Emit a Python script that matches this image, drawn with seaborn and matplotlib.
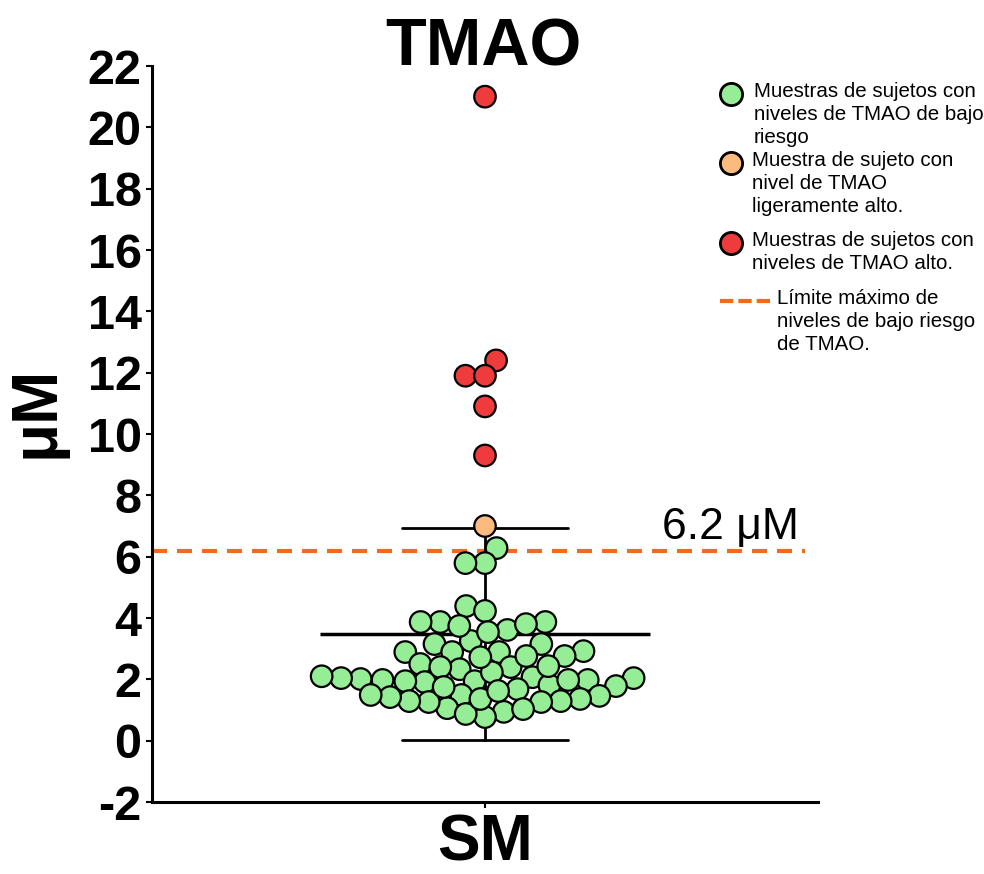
import numpy as np
import pandas as pd
import matplotlib
matplotlib.use("Agg")
import matplotlib.pyplot as plt
from matplotlib.lines import Line2D
import seaborn as sns

# TMAO concentration (µM) of each subject, split by risk level
bajo_riesgo = [
    6.28, 5.79, 5.79, 4.39, 4.23,
    3.87, 3.87, 3.61, 3.25, 3.15, 2.89, 2.89, 2.89, 2.92, 3.15, 3.54, 3.74, 3.80, 3.87,
    2.76, 2.50, 2.40, 2.33, 2.07, 2.04, 1.98, 1.98, 1.91, 1.94, 1.81, 1.94, 1.98, 2.01,
    2.04, 2.10, 2.23, 2.40, 2.43, 2.72, 2.76,
    1.78, 1.68, 1.49, 1.46, 1.36, 1.29, 1.26, 1.06, 0.94, 0.77, 0.87, 1.03, 1.26, 1.29,
    1.36, 1.42, 1.49, 1.62, 1.75,
]
ligeramente_alto = [7.0]
alto = [21.0, 12.4, 11.9, 11.9, 10.9, 9.3]

grupo = "SM"
limite = 6.2
niveles = ["bajo", "ligero", "alto"]
colores = {"bajo": "#95EE95", "ligero": "#FBBA7E", "alto": "#EE3C3C"}
color_limite = "#F26A1B"
y_ticks = list(range(-2, 23, 2))
etiquetas = {
    "bajo": "Muestras de sujetos con\nniveles de TMAO de bajo\nriesgo",
    "ligero": "Muestra de sujeto con\nnivel de TMAO\nligeramente alto.",
    "alto": "Muestras de sujetos con\nniveles de TMAO alto.",
    "limite": "Límite máximo de\nniveles de bajo riesgo\nde TMAO.",
}

df = pd.DataFrame({
    "valor": bajo_riesgo + ligeramente_alto + alto,
    "nivel": ["bajo"] * len(bajo_riesgo) + ["ligero"] * len(ligeramente_alto) + ["alto"] * len(alto),
})
df["grupo"] = grupo

sns.set_style("ticks")
plt.rcParams["font.family"] = ["Liberation Sans", "DejaVu Sans"]
plt.rcParams["axes.unicode_minus"] = False
for key in ("text.color", "axes.labelcolor", "xtick.color", "ytick.color"):
    plt.rcParams[key] = "black"

W, H = 984, 874
fig = plt.figure(figsize=(W / 100, H / 100), dpi=100)
ax = fig.add_axes([152 / W, 1 - 802 / H, 666 / W, 736 / H])

# mean ± SD
sns.pointplot(data=df, x="grupo", y="valor", errorbar="sd", capsize=0.25,
              color="black", marker="_", markersize=238, markeredgewidth=2.5,
              linestyle="none", err_kws={"linewidth": 2}, ax=ax)

# individual subjects: the swarm is packed with a slightly smaller marker,
# then the markers are enlarged so neighbours overlap a little
sns.swarmplot(data=df, x="grupo", y="valor", hue="nivel", hue_order=niveles,
              palette=colores, size=11.8, edgecolor="black", linewidth=1.6,
              legend=False, ax=ax, zorder=4)
puntos = ax.collections[0]
ax.set_xlim(-0.5, 0.5)
ax.set_ylim(-2, 22)
fig.canvas.draw()
del puntos.draw
puntos.set_sizes([15.5 ** 2])

# upper limit of the low-risk range
ax.axhline(limite, xmin=0, xmax=0.98, color=color_limite, lw=3,
           ls=(0, (3.6, 2.4)), zorder=1.5)
ax.text(0.766, limite + 0.38, f"{limite} μM", transform=ax.get_yaxis_transform(),
        fontsize=32, ha="left", va="baseline")

ax.set_yticks(y_ticks)
ax.set_xlabel("")
ax.set_ylabel("μM", fontsize=46, fontweight="bold")
ax.yaxis.set_label_coords(-0.128, 0.53)
for lab in ax.get_yticklabels() + ax.get_xticklabels():
    lab.set_fontweight("bold")
ax.tick_params(axis="y", labelsize=35, length=4.5, width=1.5, pad=3, color="black")
ax.tick_params(axis="x", labelsize=46, length=4.5, width=1.5, pad=3.5, color="black")
sns.despine(ax=ax)
for s in ("left", "bottom"):
    ax.spines[s].set_linewidth(2.2)
    ax.spines[s].set_color("black")

fig.text(483 / W, 1 - 65 / H, "TMAO", fontsize=48, fontweight="bold",
         ha="center", va="baseline")

# legend drawn beside the plot
def fx(px):
    return px / W

def fy(py):
    return 1 - py / H

entradas = [("bajo", 94, 754), ("ligero", 163, 752), ("alto", 243, 752)]
for nivel, ypx, xt in entradas:
    fig.add_artist(Line2D([fx(731)], [fy(ypx)], marker="o", markersize=16,
                          markerfacecolor=colores[nivel], markeredgecolor="black",
                          markeredgewidth=2, transform=fig.transFigure))
    fig.text(fx(xt), fy(ypx - 12), etiquetas[nivel], fontsize=14.8, ha="left",
             va="top", linespacing=1.27)
fig.add_artist(Line2D([fx(720), fx(772)], [fy(301), fy(301)], color=color_limite,
                      lw=3, ls=(0, (3.2, 1.2)), transform=fig.transFigure))
fig.text(fx(777), fy(301 - 12), etiquetas["limite"], fontsize=14.8, ha="left",
         va="top", linespacing=1.27)

fig.savefig("out.png", dpi=100)
